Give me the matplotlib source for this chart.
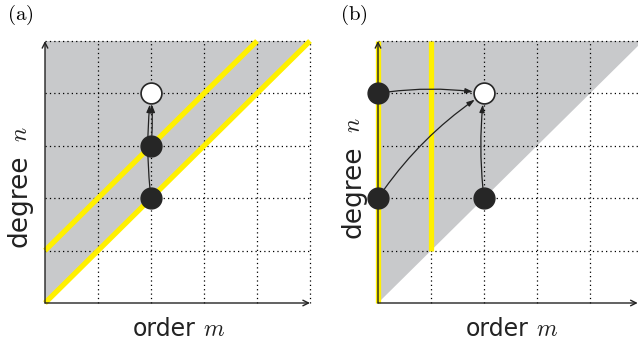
import matplotlib
matplotlib.use("Agg")
import matplotlib.pyplot as plt
from matplotlib.patches import Polygon

plt.rcParams["mathtext.fontset"] = "cm"
plt.rcParams["font.family"] = ["DejaVu Sans"]

GRAY = "#c8c9cb"
YELLOW = "#fff000"
DARK = "#262626"

# panel (a): two diagonal bands, points on the m = 2 column
A_YELLOW = [((0, 0), (5, 5)), ((0, 1), (4, 5))]
A_FILLED = [(2, 2), (2, 3)]
A_OPEN = [(2, 4)]
A_ARROWS = [((2, 2), (2, 4), -0.06), ((2, 3), (2, 4), 0.05)]

# panel (b): vertical bands, points on m = 0 and m = 2
B_YELLOW = [((0, 0), (0, 5)), ((1, 1), (1, 5))]
B_FILLED = [(0, 4), (0, 2), (2, 2)]
B_OPEN = [(2, 4)]
B_ARROWS = [((0, 4), (2, 4), -0.08), ((0, 2), (2, 4), -0.1), ((2, 2), (2, 4), -0.06)]

GRID = [1, 2, 3, 4, 5]

W, H = 639, 343


def panel(ax, xmax, yellow, filled, opened, arrows):
    ax.set_xlim(0, xmax)
    ax.set_ylim(0, 5)
    for s in ax.spines.values():
        s.set_visible(False)
    ax.set_xticks([])
    ax.set_yticks([])

    # shaded region n >= m
    ax.add_patch(Polygon([(0, 0), (5, 5), (0, 5)], closed=True, fc=GRAY, ec="none",
                         zorder=0))

    for g in GRID:
        ax.plot([0, xmax], [g, g], color="k", lw=0.9, ls=(0, (1, 2.5)), zorder=1,
                clip_on=False)
        if g <= xmax:
            ax.plot([g, g], [0, 5], color="k", lw=0.9, ls=(0, (1, 2.5)), zorder=1,
                    clip_on=False)

    for (x0, y0), (x1, y1) in yellow:
        ax.plot([x0, x1], [y0, y1], color=YELLOW, lw=3.8, solid_capstyle="butt",
                zorder=2, clip_on=False)

    # axes with arrow heads
    ax.annotate("", xy=(xmax, 0), xytext=(0, 0),
                arrowprops=dict(arrowstyle="->", lw=1.0, color="#222222",
                                shrinkA=0, shrinkB=0), zorder=3, annotation_clip=False)
    ax.annotate("", xy=(0, 5), xytext=(0, 0),
                arrowprops=dict(arrowstyle="->", lw=1.0, color="#222222",
                                shrinkA=0, shrinkB=0), zorder=3, annotation_clip=False)

    for (x0, y0), (x1, y1), rad in arrows:
        ax.annotate("", xy=(x1, y1), xytext=(x0, y0),
                    arrowprops=dict(arrowstyle="-|>,head_length=0.45,head_width=0.15",
                                    lw=0.9, color="#222222",
                                    connectionstyle=f"arc3,rad={rad}",
                                    shrinkA=7.5, shrinkB=8),
                    zorder=4, annotation_clip=False)

    fx, fy = zip(*filled)
    ax.plot(fx, fy, "o", ms=15, mfc=DARK, mec=DARK, zorder=5, clip_on=False)
    ox, oy = zip(*opened)
    ax.plot(ox, oy, "o", ms=15, mfc="white", mec=DARK, mew=1.2, zorder=5,
            clip_on=False)


def labels(left, ybot):
    # "order m" under the axis, "degree n" rotated left of it (pixel offsets)
    fig.text((left + 151) / W, 7 / H, "order", fontsize=17, ha="right",
             va="baseline", color="#222222")
    fig.text((left + 158) / W, 7 / H, "$m$", fontsize=17, ha="left",
             va="baseline", color="#222222")
    fig.text((left - 18) / W, (H - ybot) / H, "degree", fontsize=19, rotation=90,
             rotation_mode="anchor", ha="left", va="baseline", color="#222222")
    fig.text((left - 18) / W, (H - ybot + 105) / H, "$n$", fontsize=17, rotation=90,
             rotation_mode="anchor", ha="left", va="baseline", color="#222222")


fig = plt.figure(figsize=(W / 100, H / 100), dpi=100)
ux = 53 / W
ax_a = fig.add_axes([45 / W, 40 / H, 5 * ux, 262 / H])
ax_b = fig.add_axes([378 / W, 40 / H, 4.9 * ux, 262 / H])

panel(ax_a, 5, A_YELLOW, A_FILLED, A_OPEN, A_ARROWS)
panel(ax_b, 4.9, B_YELLOW, B_FILLED, B_OPEN, B_ARROWS)

labels(45, 247)
labels(378, 238)

fig.text(7 / W, 1 - 15 / H, r"$\mathrm{(a)}$", fontsize=15, va="center")
fig.text(340 / W, 1 - 15 / H, r"$\mathrm{(b)}$", fontsize=15, va="center")

fig.savefig("out.png", dpi=100)
